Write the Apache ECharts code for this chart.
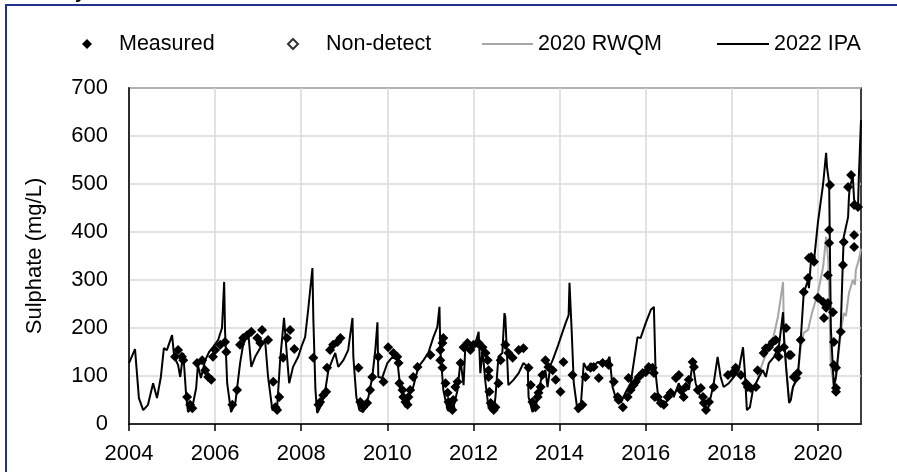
<!DOCTYPE html>
<html>
<head>
<meta charset="utf-8">
<script src="https://cdn.jsdelivr.net/npm/echarts@6/dist/echarts.min.js"></script>
<style>
html,body{margin:0;padding:0;background:#fff;}
#chart{width:897px;height:472px;}
</style>
</head>
<body>
<div id="chart"></div>
<script>
// ---- Data (decimal years) ----
const xTicks = [2004, 2006, 2008, 2010, 2012, 2014, 2016, 2018, 2020];
const yTicks = [0, 100, 200, 300, 400, 500, 600, 700];

const ipaX = [2004.00,2004.14,2004.23,2004.33,2004.44,2004.56,2004.65,2004.74,2004.81,2004.88,
2005.00,2005.05,2005.14,2005.19,2005.26,2005.33,2005.37,2005.47,2005.56,2005.60,2005.67,2005.77,2005.86,2005.95,
2006.07,2006.16,2006.21,2006.23,2006.28,2006.37,2006.47,2006.58,2006.65,2006.77,2006.84,2006.93,
2007.09,2007.16,2007.23,2007.33,2007.44,2007.51,2007.60,2007.67,2007.72,2007.81,2007.93,
2008.02,2008.09,2008.16,2008.26,2008.28,2008.33,2008.37,2008.44,2008.56,2008.63,2008.72,2008.79,2008.86,2008.98,
2009.09,2009.19,2009.21,2009.28,2009.35,2009.44,2009.56,2009.65,2009.72,2009.77,2009.79,2009.88,
2010.00,2010.12,2010.23,2010.30,2010.42,2010.49,2010.60,2010.72,2010.84,2010.95,
2011.07,2011.16,2011.21,2011.23,2011.30,2011.40,2011.51,2011.63,2011.70,2011.77,2011.81,2011.93,
2012.05,2012.12,2012.16,2012.21,2012.28,2012.35,2012.47,2012.51,2012.58,2012.67,2012.72,2012.74,2012.81,2012.93,
2013.05,2013.16,2013.26,2013.28,2013.37,2013.44,2013.51,2013.60,2013.67,2013.72,2013.79,2013.84,2013.95,
2014.07,2014.14,2014.21,2014.23,2014.28,2014.33,2014.42,2014.49,2014.53,2014.56,2014.65,2014.72,2014.79,2014.88,
2015.00,2015.12,2015.16,2015.23,2015.30,2015.42,2015.53,2015.65,2015.72,2015.81,2015.88,
2016.00,2016.12,2016.19,2016.23,2016.28,2016.40,2016.47,2016.58,2016.65,2016.77,2016.86,2016.93,
2017.00,2017.09,2017.16,2017.23,2017.35,2017.44,2017.51,2017.58,2017.67,2017.74,2017.81,2017.93,
2018.05,2018.16,2018.26,2018.30,2018.35,2018.42,2018.49,2018.56,2018.63,2018.72,2018.79,2018.86,2018.98,
2019.09,2019.19,2019.21,2019.26,2019.33,2019.37,2019.42,2019.53,2019.60,2019.67,2019.77,2019.79,2019.84,2019.91,
2020.00,2020.12,2020.19,2020.21,2020.26,2020.30,2020.37,2020.42,2020.53,2020.58,2020.60,2020.70,2020.72,2020.74,2020.81,2020.84,2020.93,2020.95,2021.00];
const ipaY = [127,156,54,29,40,85,54,98,158,154,
185,140,123,98,148,56,25,35,75,123,96,133,150,160,
175,200,296,196,85,25,44,127,165,190,119,140,
165,175,98,29,35,133,221,140,85,119,140,
165,181,237,325,223,71,23,35,71,112,133,148,119,133,
154,221,140,56,29,25,56,98,154,212,98,96,
127,140,133,77,35,56,77,119,133,148,
181,202,244,154,71,29,25,71,133,81,160,154,
169,192,106,154,85,35,25,56,140,148,231,223,81,92,
106,127,119,56,25,33,65,106,112,77,123,133,160,
192,210,227,294,196,85,25,35,85,127,112,127,119,129,
127,133,140,77,56,44,65,85,127,181,179,
210,238,244,106,65,35,44,71,56,85,56,85,
71,127,85,65,44,29,56,85,140,98,77,85,
98,112,160,112,29,35,71,85,98,112,98,127,140,
160,233,181,119,44,50,77,98,175,273,300,283,342,342,
420,500,565,535,502,200,77,100,202,342,390,431,473,494,515,467,452,515,633];

const rwqmX = [2018.60,2018.74,2018.95,2019.07,2019.19,2019.21,2019.26,2019.33,2019.42,2019.53,2019.60,2019.67,2019.77,2019.86,
2020.00,2020.12,2020.19,2020.24,2020.30,2020.37,2020.42,2020.53,2020.60,2020.65,2020.72,2020.81,2020.86,2020.88,2020.95,2021.00];
const rwqmY = [98,133,175,223,296,190,119,50,77,98,160,190,196,231,
273,327,390,340,120,80,95,190,231,225,273,300,290,321,342,365];

const measX = [2005.07,2005.14,2005.23,2005.26,2005.35,2005.42,2005.47,2005.58,2005.70,2005.77,2005.84,2005.91,2005.95,
2006.00,2006.12,2006.23,2006.26,2006.40,2006.51,2006.58,2006.65,2006.74,2006.84,2006.98,
2007.05,2007.09,2007.23,2007.35,2007.40,2007.44,2007.49,2007.58,2007.67,2007.74,2007.84,
2008.28,2008.40,2008.44,2008.51,2008.58,2008.60,2008.67,2008.74,2008.84,2008.91,
2009.33,2009.37,2009.44,2009.53,2009.60,2009.65,2009.79,2009.91,
2010.02,2010.14,2010.23,2010.26,2010.28,2010.35,2010.37,2010.42,2010.47,2010.49,2010.53,2010.60,2010.70,
2011.00,2011.23,2011.28,2011.30,2011.23,2011.28,2011.35,2011.40,2011.42,2011.47,2011.51,2011.53,2011.58,2011.63,2011.70,2011.77,2011.86,2011.93,
2012.00,2012.09,2012.12,2012.21,2012.28,2012.33,2012.35,2012.35,2012.37,2012.40,2012.44,2012.47,2012.51,2012.58,2012.63,2012.74,2012.81,2012.91,
2013.05,2013.16,2013.28,2013.33,2013.37,2013.44,2013.49,2013.51,2013.56,2013.60,2013.67,2013.74,2013.84,2013.91,
2014.02,2014.09,2014.30,2014.44,2014.53,2014.60,2014.72,2014.79,2014.91,
2015.00,2015.14,2015.26,2015.35,2015.37,2015.47,2015.58,2015.65,2015.60,2015.72,2015.77,2015.84,2015.93,
2016.00,2016.07,2016.16,2016.19,2016.21,2016.28,2016.35,2016.42,2016.51,2016.58,2016.70,2016.77,2016.81,2016.88,2016.93,
2017.00,2017.09,2017.12,2017.21,2017.28,2017.33,2017.35,2017.40,2017.47,2017.58,2017.91,
2018.02,2018.09,2018.21,2018.33,2018.37,2018.44,2018.56,2018.60,2018.74,2018.79,2018.86,2018.95,
2019.02,2019.07,2019.09,2019.21,2019.26,2019.33,2019.37,2019.44,2019.49,2019.53,2019.60,2019.67,2019.77,2019.79,2019.84,2019.91,
2020.00,2020.12,2020.14,2020.19,2020.23,2020.23,2020.26,2020.26,2020.28,2020.35,2020.37,2020.37,2020.42,2020.42,2020.42,
2020.53,2020.58,2020.60,2020.70,2020.77,2020.84,2020.93,2020.84,2020.84];
const measY = [140,154,140,133,56,40,33,127,133,112,98,92,140,
154,165,171,150,40,71,165,179,185,192,179,
169,196,175,88,35,29,56,138,179,196,156,
138,40,46,60,67,117,154,165,171,179,
117,46,35,44,71,98,140,88,
160,148,140,127,85,71,56,46,40,56,71,98,119,
144,154,169,179,133,117,85,65,46,35,29,50,77,88,127,160,169,154,
165,169,169,160,148,133,112,98,67,44,33,29,35,85,133,165,148,138,
154,158,117,81,46,35,56,65,77,102,133,119,112,92,
67,129,102,33,40,98,117,119,96,
127,123,88,56,50,35,56,71,96,81,88,98,106,
108,119,117,106,56,56,44,40,56,65,96,102,71,56,77,
92,129,119,71,75,56,44,29,46,77,102,
106,117,102,85,77,75,77,112,148,158,160,171,
175,154,140,160,200,144,144,98,96,106,175,275,304,346,348,338,
263,254,221,242,310,252,404,377,498,233,171,123,117,75,67,
192,331,379,494,519,456,452,394,369];

const nonDetX = [];
const nonDetY = [];

const FONT = '"Liberation Sans", Arial, sans-serif';
const zip = (xs, ys) => xs.map((x, i) => [x, ys[i]]);

const chart = echarts.init(document.getElementById('chart'), null, {renderer: 'canvas'});

const legendText = {fontFamily: FONT, fontSize: 21.5, color: '#000', lineHeight: 22};
const legendBase = {top: 33, orient: 'horizontal', padding: 0, selectedMode: false};

chart.setOption({
  animation: false,
  backgroundColor: '#fff',
  graphic: [
    {type: 'rect', shape: {x: 6, y: 5, width: 1000, height: 1000},
     style: {fill: 'none', stroke: '#22318f', lineWidth: 2}, z: 100},
    {type: 'text', left: 75, top: -17,
     style: {text: 'y', font: 'bold 19px ' + FONT, fill: '#000'}}
  ],
  legend: [
    Object.assign({}, legendBase, {left: 82, itemWidth: 10, itemHeight: 10,
      textStyle: Object.assign({}, legendText, {padding: [0, 0, 0, 22]}),
      data: [{name: 'Measured', icon: 'diamond'}]}),
    Object.assign({}, legendBase, {left: 287, itemWidth: 10, itemHeight: 10,
      textStyle: Object.assign({}, legendText, {padding: [0, 0, 0, 23]}),
      data: [{name: 'Non-detect', icon: 'diamond'}]}),
    Object.assign({}, legendBase, {left: 482, itemWidth: 51, itemHeight: 2, textStyle: legendText,
      data: [{name: '2020 RWQM', icon: 'rect'}]}),
    Object.assign({}, legendBase, {left: 717, itemWidth: 52, itemHeight: 2, textStyle: legendText,
      data: [{name: '2022 IPA', icon: 'rect'}]})
  ],
  grid: {left: 129, right: 36, top: 88, bottom: 48, show: true,
         borderColor: '#000', borderWidth: 1.5, backgroundColor: 'transparent'},
  xAxis: {
    type: 'value', min: 2004, max: 2021, interval: 2,
    axisLine: {show: true, lineStyle: {color: '#000', width: 1.5}},
    axisTick: {show: true, inside: false, length: 7, customValues: xTicks,
               lineStyle: {color: '#000', width: 1.5}},
    axisLabel: {customValues: xTicks, formatter: v => String(v), margin: 19,
                fontFamily: FONT, fontSize: 22, color: '#000'},
    splitLine: {show: true, lineStyle: {color: '#d9d9d9', width: 1.5}}
  },
  yAxis: {
    type: 'value', min: 0, max: 700, interval: 100,
    name: 'Sulphate (mg/L)', nameLocation: 'middle', nameGap: 83,
    nameTextStyle: {fontFamily: FONT, fontSize: 22, color: '#000'},
    axisLine: {show: true, lineStyle: {color: '#000', width: 1.5}},
    axisTick: {show: false},
    axisLabel: {customValues: yTicks, formatter: v => String(v), margin: 21,
                fontFamily: FONT, fontSize: 22, color: '#000'},
    splitLine: {show: true, lineStyle: {color: '#d9d9d9', width: 1.5}}
  },
  series: [
    {name: '2020 RWQM', type: 'line', data: zip(rwqmX, rwqmY), symbol: 'none', showSymbol: false,
     lineStyle: {color: '#a6a6a6', width: 2}, itemStyle: {color: '#a6a6a6'}, z: 2},
    {name: '2022 IPA', type: 'line', data: zip(ipaX, ipaY), symbol: 'none', showSymbol: false,
     lineStyle: {color: '#000', width: 2}, itemStyle: {color: '#000'}, z: 3},
    {name: 'Measured', type: 'scatter', data: zip(measX, measY), symbol: 'diamond', symbolSize: 10,
     itemStyle: {color: '#000', opacity: 1}, z: 4},
    {name: 'Non-detect', type: 'scatter', data: zip(nonDetX, nonDetY), symbol: 'diamond', symbolSize: 10,
     itemStyle: {color: '#fff', borderColor: '#000', borderWidth: 2}, z: 4}
  ]
});
</script>
</body>
</html>
